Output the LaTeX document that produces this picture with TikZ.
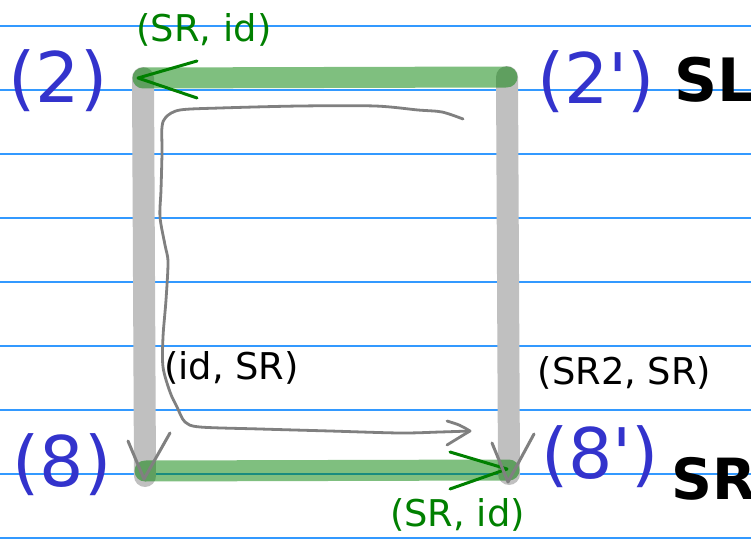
\documentclass[tikz,border=0pt]{standalone}
\usepackage{fontspec}
\setmainfont{DejaVu Sans}
\newfontfamily\boldsans{DejaVu Sans Bold}
\newfontfamily\labfont{DejaVu Sans}
\begin{document}
\begin{tikzpicture}[x=1bp,y=-1bp,
  ruleline/.style={draw=rulecol,line width=1.2bp},
  grayrail/.style={draw=railgray,line width=22bp,line cap=round},
  greenrail/.style={draw=arrowgreen,draw opacity=0.5,line width=21bp,line cap=round},
  greenhead/.style={draw=arrowgreen,line width=3bp,line cap=round,line join=round},
  grayhead/.style={draw=curvegray,line width=3bp,line cap=round,line join=round},
  pathcurve/.style={draw=curvegray,line width=2.8bp,line cap=round,line join=round},
  bluelab/.style={text=labblue,font=\labfont\fontsize{70}{80}\selectfont,inner sep=0},
  boldlab/.style={text=black,font=\boldsans\fontsize{58}{66}\selectfont,inner sep=0,anchor=west},
  greenlab/.style={text=arrowgreen,font=\fontsize{37}{42}\selectfont,inner sep=0},
  blacklab/.style={text=black,font=\fontsize{37}{42}\selectfont,inner sep=0}]
\definecolor{rulecol}{RGB}{51,153,255}
\definecolor{railgray}{RGB}{192,192,192}
\definecolor{arrowgreen}{RGB}{0,128,0}
\definecolor{curvegray}{RGB}{128,128,128}
\definecolor{labblue}{RGB}{51,51,204}
\useasboundingbox (0,0) rectangle (751,539);
\fill[white] (0,0) rectangle (751,539);
% ruled lines
\foreach \yy in {26,90,154,218,282,346,410,474,538}
  \draw[ruleline] (0,\yy) -- (751,\yy);
% corners
\coordinate (c2) at (143,78);
\coordinate (c2p) at (507,77);
\coordinate (c8) at (145,471);
\coordinate (c8p) at (509,470);
\coordinate (g8) at (145,476);
\coordinate (g8p) at (509,474);
% gray rails
\draw[grayrail] (c2) -- (g8);
\draw[grayrail] (c2p) -- (g8p);
% green rails
\draw[greenrail] (c2p) -- (c2);
\draw[greenrail] (c8) -- (c8p);
% green arrowheads
\coordinate (ta1) at (197,61);
\coordinate (ta2) at (197,98);
\coordinate (tt) at (138,78);
\draw[greenhead] (ta1) -- (tt) -- (ta2);
\coordinate (ba1) at (450,452);
\coordinate (ba2) at (450,489);
\coordinate (bt) at (507,469);
\draw[greenhead] (ba1) -- (bt) -- (ba2);
% gray V heads
\coordinate (lv1) at (128,441);
\coordinate (lvt) at (144,479);
\coordinate (lv2) at (170,433);
\draw[grayhead] (lv1) -- (lvt) -- (lv2);
\coordinate (rv1) at (492,443);
\coordinate (rvt) at (508,482);
\coordinate (rv2) at (534,434);
\draw[grayhead] (rv1) -- (rvt) -- (rv2);
% hand drawn path
\coordinate (cs) at (463,119);
\coordinate (ce) at (470,431);
\draw[pathcurve] plot[smooth,tension=0.5] coordinates {(463,119) (442,112) (418,110) (375,106) (300,106) (220,108) (180,110) (166,117) (162,127) (162,153) (161,190) (160,217) (165,245) (168,262) (166,300) (163,337) (163,367) (170,392) (177,407) (185,422) (200,427) (260,429) (330,431) (400,433) (440,432) (470,431)};
\draw[pathcurve] (447,421) .. controls (460,425) .. (ce) .. controls (460,437) .. (447,445);
% labels
\node[bluelab] (n2) at (58,81) {(2)};
\node[bluelab] (n2p) at (596,82) {(2')};
\node[bluelab] (n8) at (62,465) {(8)};
\node[bluelab] (n8p) at (600,457) {(8')};
\node[boldlab,font=\boldsans\fontsize{60}{68}\selectfont] (sl) at (674,80) {SL};
\node[boldlab,font=\boldsans\fontsize{57}{66}\selectfont] (sr) at (671,479) {SR};
\node[greenlab] (gt) at (204,30) {(SR, id)};
\node[greenlab] (gb) at (457.5,515) {(SR, id)};
\node[blacklab] (idsr) at (231.5,367.5) {(id, SR)};
\node[blacklab] (sr2) at (624.5,372.5) {(SR2, SR)};
\end{tikzpicture}
\end{document}
